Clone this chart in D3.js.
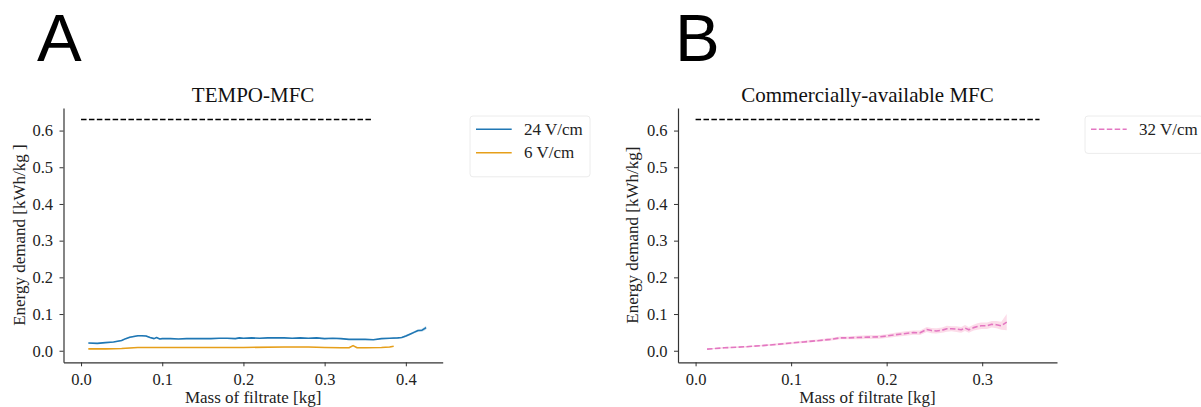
<!DOCTYPE html>
<html>
<head>
<meta charset="utf-8">
<script src="https://cdn.jsdelivr.net/npm/d3@7"></script>
<style>
  body { margin: 0; background: #fff; }
  svg { display: block; }
</style>
</head>
<body>
<div id="chart"></div>
<script>
// --- data ---
const yTicks = [0.0, 0.1, 0.2, 0.3, 0.4, 0.5, 0.6];
const xTicksA = [0.0, 0.1, 0.2, 0.3, 0.4];
const xTicksB = [0.0, 0.1, 0.2, 0.3];

// reference line (dashed black) in both panels
const refX = [0.0, 0.36];
const refY = [0.63, 0.63];

// A: TEMPO-MFC, 24 V/cm
const x24 = [0.009, 0.02, 0.03, 0.04, 0.05, 0.055, 0.06, 0.065, 0.07, 0.075, 0.08, 0.085, 0.09, 0.093, 0.097,
  0.1, 0.11, 0.12, 0.13, 0.14, 0.15, 0.16, 0.17, 0.18, 0.19, 0.195, 0.2, 0.21, 0.22, 0.23, 0.24, 0.25, 0.26,
  0.27, 0.28, 0.29, 0.3, 0.31, 0.32, 0.33, 0.34, 0.35, 0.36, 0.37, 0.38, 0.39, 0.395, 0.4, 0.405, 0.41, 0.415,
  0.42, 0.425];
const y24 = [0.021, 0.020, 0.022, 0.024, 0.028, 0.033, 0.037, 0.039, 0.041, 0.041, 0.040, 0.036, 0.033, 0.036, 0.032,
  0.033, 0.033, 0.032, 0.033, 0.033, 0.033, 0.033, 0.034, 0.034, 0.033, 0.035, 0.034, 0.035, 0.034, 0.035, 0.035, 0.035, 0.034,
  0.035, 0.034, 0.035, 0.033, 0.034, 0.033, 0.031, 0.031, 0.031, 0.030, 0.033, 0.034, 0.035, 0.036, 0.040, 0.045, 0.050, 0.055,
  0.056, 0.063];
const e24 = [0.001, 0.001, 0.001, 0.001, 0.002, 0.002, 0.002, 0.002, 0.002, 0.002, 0.002, 0.002, 0.001, 0.001, 0.001,
  0.001, 0.001, 0.001, 0.001, 0.001, 0.001, 0.001, 0.001, 0.001, 0.001, 0.001, 0.001, 0.001, 0.001, 0.001, 0.001, 0.001, 0.001,
  0.001, 0.001, 0.001, 0.001, 0.001, 0.001, 0.001, 0.001, 0.001, 0.001, 0.001, 0.001, 0.002, 0.002, 0.003, 0.003, 0.003, 0.003,
  0.004, 0.005];

// A: TEMPO-MFC, 6 V/cm
const x6 = [0.009, 0.03, 0.05, 0.07, 0.09, 0.1, 0.15, 0.2, 0.25, 0.28, 0.3, 0.32, 0.33, 0.335, 0.34, 0.35, 0.37, 0.38, 0.385];
const y6 = [0.005, 0.005, 0.006, 0.009, 0.009, 0.009, 0.009, 0.009, 0.010, 0.010, 0.009, 0.008, 0.008, 0.014, 0.008, 0.008, 0.009, 0.010, 0.012];
const e6 = [0.001, 0.001, 0.001, 0.001, 0.001, 0.001, 0.001, 0.001, 0.001, 0.001, 0.001, 0.001, 0.001, 0.001, 0.001, 0.001, 0.001, 0.001, 0.001];

// B: Commercially-available MFC, 32 V/cm
const x32 = [0.012, 0.03, 0.053, 0.07, 0.088, 0.1, 0.113, 0.13, 0.141, 0.151, 0.16, 0.169, 0.18, 0.193, 0.2, 0.21, 0.22,
  0.228, 0.235, 0.242, 0.247, 0.252, 0.258, 0.263, 0.268, 0.273, 0.278, 0.282, 0.286, 0.291, 0.295, 0.299, 0.305, 0.31,
  0.315, 0.32, 0.3257];
const y32 = [0.0045, 0.008, 0.011, 0.014, 0.018, 0.021, 0.024, 0.028, 0.031, 0.035, 0.035, 0.036, 0.037, 0.038, 0.040, 0.044, 0.047,
  0.0495, 0.049, 0.058, 0.055, 0.054, 0.056, 0.060, 0.060, 0.059, 0.057, 0.062, 0.057, 0.063, 0.066, 0.068, 0.068, 0.072,
  0.071, 0.068, 0.078];
const e32 = [0.001, 0.002, 0.002, 0.002, 0.003, 0.003, 0.003, 0.003, 0.004, 0.004, 0.004, 0.005, 0.005, 0.005, 0.005, 0.006, 0.006,
  0.006, 0.006, 0.007, 0.007, 0.007, 0.007, 0.008, 0.007, 0.008, 0.008, 0.008, 0.008, 0.008, 0.009, 0.009, 0.009, 0.009,
  0.01, 0.011, 0.022];

const blue = "#1f77b4";
const orange = "#e69f1a";
const pink = "#e377c2";

const W = 1201, H = 407;
const serif = "'Liberation Serif', 'Times New Roman', serif";
const sans = "'Liberation Sans', Arial, sans-serif";

const svg = d3.select("#chart")
  .append("svg")
  .attr("width", W)
  .attr("height", H);

svg.append("rect").attr("width", W).attr("height", H).attr("fill", "#fff");

function zip(xs, ys, es) {
  return xs.map((x, i) => ({ x: x, y: ys[i], e: es ? es[i] : 0 }));
}

function drawPanel(p) {
  const x = d3.scaleLinear().domain(p.xDomain).range([p.left, p.right]);
  const y = d3.scaleLinear().domain([-0.0315, 0.6615]).range([p.bottom, p.top]);

  const g = svg.append("g");

  // shaded bands
  p.series.forEach(s => {
    const d = zip(s.x, s.y, s.e);
    g.append("path")
      .datum(d)
      .attr("fill", s.band || s.color)
      .attr("fill-opacity", s.bandOpacity || 0.25)
      .attr("stroke", "none")
      .attr("d", d3.area().x(v => x(v.x)).y0(v => y(v.y - v.e)).y1(v => y(v.y + v.e)));
  });

  // lines
  p.series.forEach(s => {
    g.append("path")
      .datum(zip(s.x, s.y))
      .attr("fill", "none")
      .attr("stroke", s.color)
      .attr("stroke-width", 1.6)
      .attr("stroke-dasharray", s.dash || null)
      .attr("stroke-linejoin", "round")
      .attr("d", d3.line().x(v => x(v.x)).y(v => y(v.y)));
  });

  // reference line
  g.append("path")
    .datum(zip(refX, refY))
    .attr("fill", "none")
    .attr("stroke", "#000")
    .attr("stroke-width", 1.4)
    .attr("stroke-dasharray", "5.5,2.4")
    .attr("d", d3.line().x(v => x(v.x)).y(v => y(v.y)));

  // axes
  const xAxis = g.append("g")
    .attr("transform", "translate(0," + p.bottom + ")")
    .call(d3.axisBottom(x).tickValues(p.xTicks).tickFormat(d3.format(".1f"))
      .tickSize(4).tickSizeOuter(0).tickPadding(7));

  const yAxis = g.append("g")
    .attr("transform", "translate(" + p.left + ",0)")
    .call(d3.axisLeft(y).tickValues(yTicks).tickFormat(d3.format(".1f"))
      .tickSize(4).tickSizeOuter(0).tickPadding(6.5));

  [xAxis, yAxis].forEach(a => {
    a.attr("font-family", null).attr("font-size", null);
    a.select(".domain").attr("stroke", "#333").attr("stroke-width", 1.2);
    a.selectAll(".tick line").attr("stroke", "#333").attr("stroke-width", 1);
    a.selectAll("text")
      .attr("fill", "#222")
      .style("font-family", serif)
      .style("font-size", "16.5px");
  });

  // title
  g.append("text")
    .attr("x", (p.left + p.right) / 2)
    .attr("y", 101.5)
    .attr("text-anchor", "middle")
    .style("font-family", serif)
    .style("font-size", "21px")
    .attr("fill", "#111")
    .text(p.title);

  // axis labels
  g.append("text")
    .attr("x", (p.left + p.right) / 2)
    .attr("y", 403)
    .attr("text-anchor", "middle")
    .style("font-family", serif)
    .style("font-size", "17px")
    .attr("fill", "#222")
    .text("Mass of filtrate [kg]");

  g.append("text")
    .attr("transform", "translate(" + p.yLabelX + "," + ((p.top + p.bottom) / 2) + ") rotate(-90)")
    .attr("text-anchor", "middle")
    .style("font-family", serif)
    .style("font-size", "17px")
    .attr("fill", "#222")
    .text(p.yLabel);

  // panel letter
  svg.append("text")
    .attr("x", p.letterX)
    .attr("y", 61)
    .style("font-family", sans)
    .style("font-size", "67px")
    .attr("fill", "#000")
    .text(p.letter);

  // legend
  const leg = svg.append("g")
    .attr("transform", "translate(" + p.legend.x + "," + p.legend.y + ")");
  leg.append("rect")
    .attr("x", 0).attr("y", 0)
    .attr("width", p.legend.w)
    .attr("height", 14 + p.series.length * 23.4)
    .attr("rx", 3)
    .attr("fill", "#fff")
    .attr("stroke", "#ececec")
    .attr("stroke-width", 1);
  const items = leg.selectAll(".legend-item")
    .data(p.series)
    .enter().append("g")
    .attr("class", "legend-item")
    .attr("transform", (d, i) => "translate(0," + (13.3 + i * 23.4) + ")");
  items.append("line")
    .attr("x1", 6).attr("x2", 41.7)
    .attr("stroke", d => d.color)
    .attr("stroke-width", 1.6)
    .attr("stroke-dasharray", d => d.dash || null);
  items.append("text")
    .attr("x", 54)
    .attr("y", 0)
    .attr("dy", "0.33em")
    .style("font-family", serif)
    .style("font-size", "17px")
    .attr("fill", "#222")
    .text(d => d.name);
}

drawPanel({
  letter: "A", letterX: 37,
  title: "TEMPO-MFC",
  yLabel: "Energy demand [kWh/kg ]",
  yLabelX: 25,
  left: 63.5, right: 442.7, top: 108, bottom: 362.3,
  xDomain: [-0.0216, 0.4454],
  xTicks: xTicksA,
  series: [
    { name: "24 V/cm", x: x24, y: y24, e: e24, color: blue },
    { name: "6 V/cm", x: x6, y: y6, e: e6, color: orange }
  ],
  legend: { x: 470, y: 116, w: 120 }
});

drawPanel({
  letter: "B", letterX: 675,
  title: "Commercially-available MFC",
  yLabel: "Energy demand [kWh/kg]",
  yLabelX: 638,
  left: 678, right: 1057, top: 108, bottom: 362.3,
  xDomain: [-0.0184, 0.3783],
  xTicks: xTicksB,
  series: [
    { name: "32 V/cm", x: x32, y: y32, e: e32, color: pink, dash: "5.5,2.4", band: "#f7a8c8", bandOpacity: 0.4 }
  ],
  legend: { x: 1085, y: 116, w: 118 }
});
</script>
</body>
</html>
